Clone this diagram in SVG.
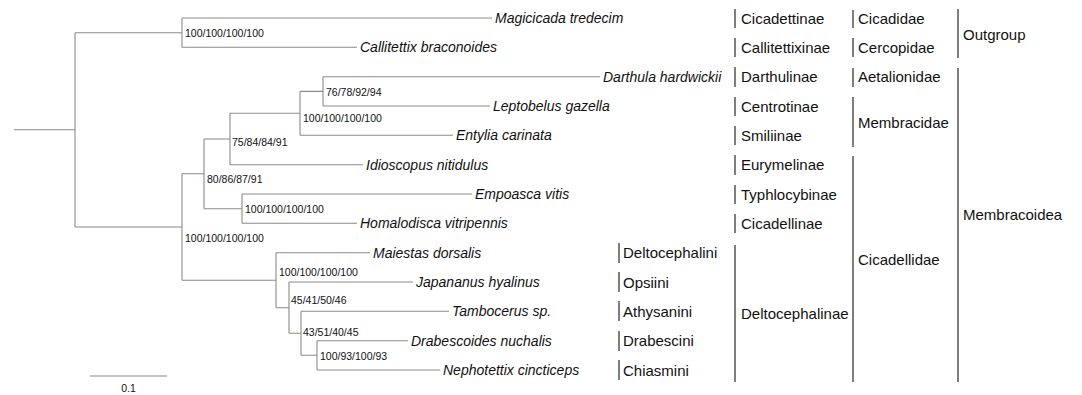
<svg xmlns="http://www.w3.org/2000/svg" width="1082" height="395" viewBox="0 0 1082 395">
<style>
.br{stroke:#8a8a8a;stroke-width:1.1;fill:none}
.bar{stroke:#3a3a3a;stroke-width:1.3;fill:none}
.sp{font-family:"Liberation Sans",Arial,sans-serif;font-size:14px;font-style:italic;fill:#111;dominant-baseline:central}
.lab{font-family:"Liberation Sans",Arial,sans-serif;font-size:15px;fill:#111;dominant-baseline:central}
.sup{font-family:"Liberation Sans",Arial,sans-serif;font-size:10.5px;fill:#111;dominant-baseline:central}
</style>
<rect width="1082" height="395" fill="#fff"/>
<g id="connectors">
<path class="br" d="M14 129.8H75M75 32.7V227M75 32.7H182M182 18V47.3M75 227H182M182 173.8V280.2"/>
<path class="br" d="M182 18H492M182 47.3H357"/>
<path class="br" d="M182 173.8H204M204 139V208.7M204 139H230M230 113.3V164.7M230 164.7H363M230 113.3H300M300 91.4V135.3M300 135.3H453M300 91.4H323M323 76.7V106M323 76.7H600M323 106H490"/>
<path class="br" d="M204 208.7H242M242 194V223.3M242 194H472M242 223.3H357"/>
<path class="br" d="M182 280.2H276M276 252.7V307.7M276 252.7H370M276 307.7H289M289 282V333.3M289 282H413M289 333.3H301M301 311.3V355.3M301 311.3H449M301 355.3H317M317 340.7V370M317 340.7H408M317 370H440"/>
<path class="br" d="M90 376H167"/>
</g>
<g id="tips">
<text class="sp" x="495" y="18">Magicicada tredecim</text>
<text class="sp" x="360" y="47.3">Callitettix braconoides</text>
<text class="sp" x="603" y="76.7">Darthula hardwickii</text>
<text class="sp" x="493" y="106">Leptobelus gazella</text>
<text class="sp" x="456" y="135.3">Entylia carinata</text>
<text class="sp" x="366" y="164.7">Idioscopus nitidulus</text>
<text class="sp" x="475" y="194">Empoasca vitis</text>
<text class="sp" x="360" y="223.3">Homalodisca vitripennis</text>
<text class="sp" x="373" y="252.7">Maiestas dorsalis</text>
<text class="sp" x="416" y="282">Japananus hyalinus</text>
<text class="sp" x="452" y="311.3">Tambocerus sp.</text>
<text class="sp" x="411" y="340.7">Drabescoides nuchalis</text>
<text class="sp" x="443" y="370">Nephotettix cincticeps</text>
</g>
<g id="support">
<text class="sup" x="185" y="33">100/100/100/100</text>
<text class="sup" x="185" y="238">100/100/100/100</text>
<text class="sup" x="207" y="179">80/86/87/91</text>
<text class="sup" x="232" y="142">75/84/84/91</text>
<text class="sup" x="303" y="118">100/100/100/100</text>
<text class="sup" x="326" y="92">76/78/92/94</text>
<text class="sup" x="245" y="209">100/100/100/100</text>
<text class="sup" x="279" y="272">100/100/100/100</text>
<text class="sup" x="291" y="300">45/41/50/46</text>
<text class="sup" x="303" y="332">43/51/40/45</text>
<text class="sup" x="320" y="356">100/93/100/93</text>
</g>
<g id="scale">
<text class="sup" x="128.5" y="388" text-anchor="middle">0.1</text>
</g>
<g id="tribes">
<path class="bar" d="M619 243V263M619 272V292M619 301V321M619 331V351M619 360V380"/>
<text class="lab" x="623" y="252.7">Deltocephalini</text>
<text class="lab" x="623" y="282">Opsiini</text>
<text class="lab" x="623" y="311.3">Athysanini</text>
<text class="lab" x="623" y="340.7">Drabescini</text>
<text class="lab" x="623" y="370">Chiasmini</text>
</g>
<g id="subfamilies">
<path class="bar" d="M735 9V28M735 38V57M735 67V87M735 97V116M735 126V145M735 155V175M735 185V204M735 214V233M735 245V382"/>
<text class="lab" x="741" y="18">Cicadettinae</text>
<text class="lab" x="741" y="47.3">Callitettixinae</text>
<text class="lab" x="741" y="76.7">Darthulinae</text>
<text class="lab" x="741" y="106">Centrotinae</text>
<text class="lab" x="741" y="135.3">Smiliinae</text>
<text class="lab" x="741" y="164.7">Eurymelinae</text>
<text class="lab" x="741" y="194">Typhlocybinae</text>
<text class="lab" x="741" y="223.3">Cicadellinae</text>
<text class="lab" x="741" y="313">Deltocephalinae</text>
</g>
<g id="families">
<path class="bar" d="M853 10V28M853 38V57M853 68V87M853 97V147M853 156V382"/>
<text class="lab" x="858" y="18">Cicadidae</text>
<text class="lab" x="858" y="47.3">Cercopidae</text>
<text class="lab" x="858" y="76.7">Aetalionidae</text>
<text class="lab" x="858" y="122">Membracidae</text>
<text class="lab" x="858" y="259">Cicadellidae</text>
</g>
<g id="superfamilies">
<path class="bar" d="M958 9V58M958 68V382"/>
<text class="lab" x="963" y="34">Outgroup</text>
<text class="lab" x="963" y="214">Membracoidea</text>
</g>
</svg>
